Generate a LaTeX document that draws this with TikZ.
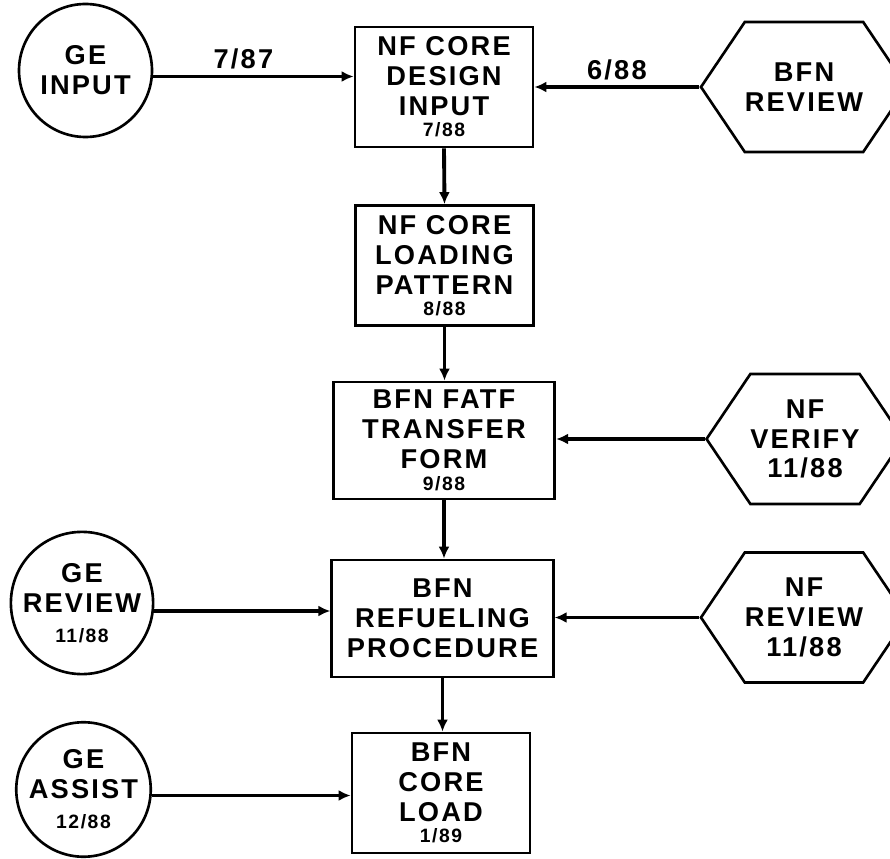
\documentclass[tikz,border=0pt]{standalone}
\usepackage{fontspec}
\usepackage{tikz}
\usetikzlibrary{arrows.meta,positioning,shapes.symbols,calc}
\newfontfamily\chartfont{Liberation Sans}[LetterSpace=8]
\newcommand{\mainsz}{\chartfont\bfseries\fontsize{15.5}{17}\selectfont}
\newcommand{\datesz}{\fontsize{11}{11}\selectfont}
\definecolor{ink}{HTML}{000000}

\begin{document}
\begin{tikzpicture}[
  >={Latex[length=2.4mm, width=2.2mm]},
  stepbox/.style={draw=ink, line width=1.6pt, minimum width=3.56cm, minimum height=2.4cm, align=center, font=\mainsz, inner sep=2pt},
  widebox/.style={stepbox, minimum width=4.43cm, minimum height=2.34cm},
  source/.style={draw=ink, circle, line width=1.5pt, minimum size=2.66cm, inner sep=0pt, align=center, font=\mainsz},
  check/.style={draw=ink, signal, signal to=west and east, signal pointer angle=112, line width=1.5pt, minimum width=3.44cm, minimum height=2.6cm, inner sep=0pt, align=center, font=\mainsz},
  arr/.style={->, line width=2.2pt, color=ink},
  date/.style={font=\mainsz, above, inner sep=3pt},
]
\useasboundingbox (0,0) rectangle (17.8,17.16);

% main chain
\node[stepbox] (design) at (8.88, 15.42) {NF CORE\\DESIGN\\INPUT\\[-5pt]{\datesz 7/88}};
\node[stepbox] (pattern) at (8.89, 11.85) {NF CORE\\LOADING\\PATTERN\\[-5pt]{\datesz 8/88}};
\node[widebox] (fatf) at (8.88, 8.35) {BFN FATF\\TRANSFER\\FORM\\[-4pt]{\datesz 9/88}};
\node[widebox] (refuel) at (8.85, 4.79) {BFN\\REFUELING\\PROCEDURE};
\node[stepbox] (coreload) at (8.82, 1.30) {BFN\\CORE\\LOAD\\[-5pt]{\datesz 1/89}};

% GE side
\node[source] (geinput) at (1.71, 15.75) {GE\\INPUT};
\node[source] (gereview) at (1.64, 5.10) {GE\\REVIEW\\{\datesz 11/88}};
\node[source] (geassist) at (1.67, 1.37) {GE\\ASSIST\\{\datesz 12/88}};

% review side
\node[check] (bfnreview) at (16.08, 15.42) {BFN\\REVIEW};
\node[check] (nfverify) at (16.10, 8.38) {NF\\VERIFY\\11/88};
\node[check] (nfreview) at (16.08, 4.81) {NF\\REVIEW\\11/88};

\draw[arr] (design.south) -- (pattern.north);
\draw[arr] (pattern.south) -- (pattern.south |- fatf.north);
\draw[arr] (fatf.south) -- (fatf.south |- refuel.north);
\draw[arr] (refuel.south) -- (refuel.south |- coreload.north);

\draw[arr] ([yshift=-0.12cm]geinput.east) -- node[date, pos=0.45] {7/87} ([yshift=-0.12cm]geinput.east -| design.west);
\draw[arr] (bfnreview.west) -- node[date] {6/88} (bfnreview.west -| design.east);
\draw[arr] (nfverify.west) -- (nfverify.west -| fatf.east);
\draw[arr] ([yshift=-0.16cm]gereview.east) -- ([yshift=-0.16cm]gereview.east -| refuel.west);
\draw[arr] (nfreview.west) -- (nfreview.west -| refuel.east);
\draw[arr] ([yshift=-0.12cm]geassist.east) -- ([yshift=-0.12cm]geassist.east -| coreload.west);

\end{tikzpicture}
\end{document}
